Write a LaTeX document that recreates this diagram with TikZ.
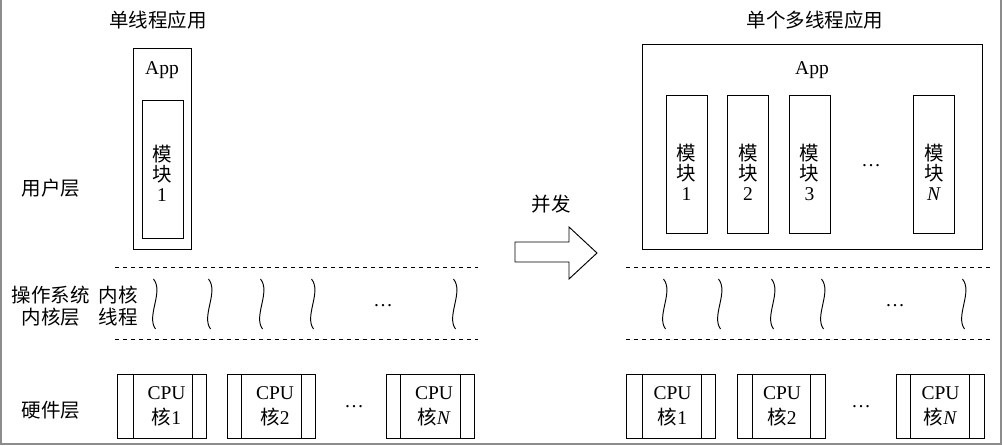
\documentclass[tikz,border=0pt]{standalone}
\usepackage{fontspec}
\setmainfont{Liberation Serif}
\newfontfamily\cjk{Noto Sans CJK SC}
\newcommand{\zh}[1]{{\cjk #1}}
\begin{document}
\begin{tikzpicture}[x=1pt,y=-1pt,
  rect/.style={draw, line width=0.95pt, inner sep=0pt},
  lbl/.style={inner sep=0pt, font=\fontsize{19.5}{20}\selectfont, align=center},
  dashsep/.style={dash pattern=on 4pt off 4pt, line width=1pt},
  thread/.style={line width=0.95pt},
  frameline/.style={draw=black!45, line width=2pt}]
\useasboundingbox (0,0) rectangle (1002,446);
% frame
\draw[frameline] (1,0) -- (1,444) -- (1001,444) -- (1001,0);

% ---------- left: single-threaded application ----------
\node[lbl] (titleL) at (158,20) {\zh{单线程应用}};
\node[rect, minimum width=58pt, minimum height=201pt] (appL) at (162,148.5) {};
\node[lbl] (appLt) at (162,70) {App};
\node[rect, minimum width=41pt, minimum height=138pt] (modL) at (162.5,169) {};
\node[lbl] (modLt) at (162,173) {\zh{模}\\\zh{块}\\1};

% ---------- row labels ----------
\node[lbl] (user) at (51,188) {\zh{用户层}};
\node[lbl, font=\fontsize{19.5}{22}\selectfont] (kern) at (51,306) {\zh{操作系统}\\\zh{内核层}};
\node[lbl, font=\fontsize{19.5}{22}\selectfont] (kthr) at (118,306) {\zh{内核}\\\zh{线程}};
\node[lbl] (hw) at (51,410) {\zh{硬件层}};

% ---------- dashed separators ----------
\coordinate (dL1a) at (115,268); \coordinate (dL1b) at (478,268);
\coordinate (dL2a) at (115,340); \coordinate (dL2b) at (478,340);
\coordinate (dR1a) at (626,268); \coordinate (dR1b) at (990,268);
\coordinate (dR2a) at (626,340); \coordinate (dR2b) at (990,340);
\draw[dashsep] (dL1a) -- (dL1b);
\draw[dashsep] (dL2a) -- (dL2b);
\draw[dashsep] (dR1a) -- (dR1b);
\draw[dashsep] (dR2a) -- (dR2b);

% ---------- kernel threads ----------
\foreach \x in {155,210,262,313,455,665,720,773,823,964}{
  \draw[thread] (\x-1.5,279) .. controls (\x+9,292) and (\x-9,316) .. (\x+0.5,329);
}
\node[lbl] (dotsKL) at (383,306) {\dots};
\node[lbl] (dotsKR) at (895,306) {\dots};

% ---------- CPU cores left ----------
\foreach \n/\a/\b/\c/\d/\t in {cl1/117/133/192/206/1, cl2/227/241/301/315/2, cl3/386/400/460/474/\textit{N}}{
  \node[rect, minimum width={(\d-\a)*1pt}, minimum height=64pt] (\n) at ({(\a+\d)/2},406) {};
  \draw[line width=0.95pt] (\b,374) -- (\b,438);
  \draw[line width=0.95pt] (\c,374) -- (\c,438);
  \node[lbl, font=\fontsize{19.5}{25}\selectfont] (\n t) at ({(\b+\c)/2+4},406) {CPU\\\zh{核}\t};
}
\node[lbl] (dotsCL) at (354,407) {\dots};

% ---------- arrow ----------
\node[lbl] (conc) at (551,204) {\zh{并发}};
\draw[line width=0.95pt] (515,242) -- (569,242) -- (569,227) -- (597,253) -- (569,279) -- (569,262) -- (515,262) -- cycle;

% ---------- right: multi-threaded application ----------
\node[lbl] (titleR) at (815,20) {\zh{单个多线程应用}};
\node[rect, minimum width=340pt, minimum height=205pt] (appR) at (812,146.5) {};
\node[lbl] (appRt) at (812,70) {App};
\foreach \n/\x/\t in {m1/686.5/1, m2/748/2, m3/809.5/3, m4/934/\textit{N}}{
  \node[rect, minimum width=41pt, minimum height=138pt] (\n) at (\x,164) {};
  \node[lbl] (\n t) at (\x,172) {\zh{模}\\\zh{块}\\\t};
}
\node[lbl] (dotsM) at (871,166) {\dots};

% ---------- CPU cores right ----------
\foreach \n/\a/\b/\c/\d/\t in {cr1/626/642/701/715/1, cr2/737/752/810/825/2, cr3/896/910/969/984/\textit{N}}{
  \node[rect, minimum width={(\d-\a)*1pt}, minimum height=64pt] (\n) at ({(\a+\d)/2},406) {};
  \draw[line width=0.95pt] (\b,374) -- (\b,438);
  \draw[line width=0.95pt] (\c,374) -- (\c,438);
  \node[lbl, font=\fontsize{19.5}{25}\selectfont] (\n t) at ({(\b+\c)/2+1},406) {CPU\\\zh{核}\t};
}
\node[lbl] (dotsCR) at (861,407) {\dots};
\end{tikzpicture}
\end{document}
